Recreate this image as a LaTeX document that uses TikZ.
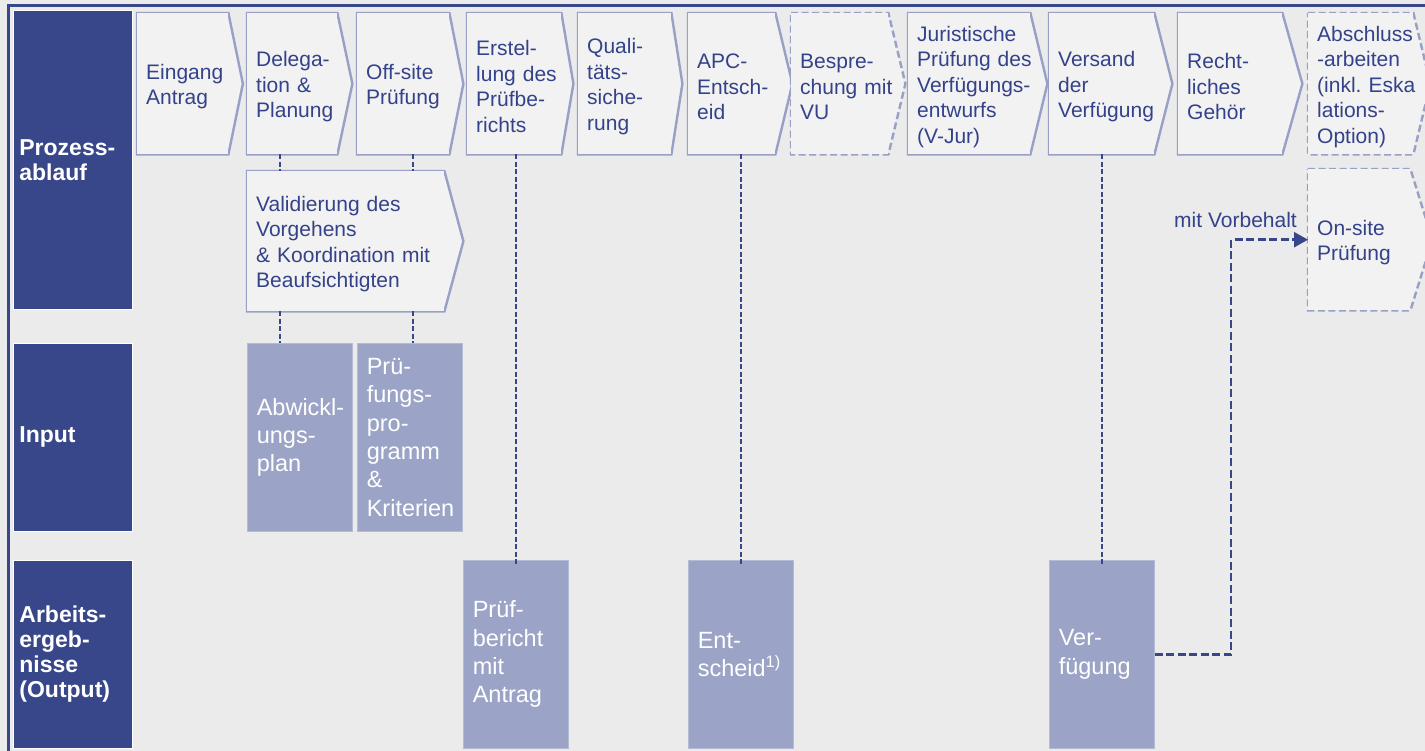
\documentclass[tikz,border=0pt]{standalone}
\usepackage{fontspec}
\setmainfont{Liberation Sans}
\usetikzlibrary{positioning, arrows.meta}
\definecolor{laneblue}{RGB}{56, 70, 138}
\definecolor{textblue}{RGB}{52, 66, 138}
\definecolor{stagefill}{RGB}{242, 242, 242}
\definecolor{stageline}{RGB}{152, 160, 198}
\definecolor{boxfill}{RGB}{155, 164, 198}
\definecolor{canvas}{RGB}{235, 235, 235}
\newcommand{\stagefont}{\fontsize{21}{25.5}\selectfont\hyphenpenalty=10000 \exhyphenpenalty=10000 }
\newcommand{\productfont}{\fontsize{23.5}{28.3}\selectfont\hyphenpenalty=10000 \exhyphenpenalty=10000 }
\newcommand{\lanefont}{\bfseries\fontsize{23}{25}\selectfont\hyphenpenalty=10000 }

\begin{document}
\begin{tikzpicture}[
    x=1pt, y=-1pt,
    lane/.style={
        rectangle,
        fill=laneblue,
        draw=white,
        line width=0.8pt,
        text=white,
        align=left,
        anchor=north west,
        text width=107pt,
        inner xsep=6pt,
        inner ysep=0pt,
        font=\lanefont
    },
    stageborder/.style={
        draw=stageline,
        line width=2.4pt,
        line join=miter
    },
    draft/.style={
        dash pattern=on 7pt off 3.5pt
    },
    stage/.style 2 args={
        rectangle,
        fill=stagefill,
        text=textblue,
        align=left,
        anchor=north west,
        minimum height=141pt,
        inner xsep=9pt,
        inner ysep=0pt,
        font=\stagefont,
        execute at begin node={\rule{0pt}{21pt}},
        append after command={\pgfextra{
            \fill[stagefill] ([xshift=-1pt]\tikzlastnode.north east) -- ([xshift=#1]\tikzlastnode.east)
                -- ([xshift=-1pt]\tikzlastnode.south east) -- cycle;
            \draw[stageborder, #2] (\tikzlastnode.north west) -- (\tikzlastnode.north east)
                -- ([xshift=#1]\tikzlastnode.east) -- (\tikzlastnode.south east)
                -- (\tikzlastnode.south west) -- cycle;
        }}
    },
    product/.style={
        rectangle,
        fill=boxfill,
        draw=boxfill!75!white,
        line width=0.6pt,
        text=white,
        align=left,
        anchor=north west,
        minimum height=188pt,
        text width=86pt,
        inner xsep=9.5pt,
        inner ysep=0pt,
        font=\productfont
    },
    link/.style={
        draw=laneblue,
        line width=1.5pt,
        dash pattern=on 5pt off 2.5pt
    },
    optionarrow/.style={
        draw=laneblue,
        line width=2.4pt,
        dash pattern=on 8pt off 3.5pt,
        -{Triangle[length=14pt, width=15pt]}
    }
]

% Canvas
\useasboundingbox (0,0) rectangle (1425,751);
\clip (0,0) rectangle (1425,751);
\fill[canvas] (0,0) rectangle (1425,751);
\draw[laneblue, line width=3pt] (8.5,760) -- (8.5,5.5) -- (1440,5.5);

% Lanes
\node[lane, minimum height=299pt] (prozess) at (13,10) {Prozess-\\ablauf};
\node[lane, minimum height=188pt] (input) at (13,343) {Input};
\node[lane, minimum height=188pt] (output) at (13,560) {Arbeits-\\ergeb-\\nisse\\(Output)};

% Process stages
\node[stage={14.5pt}{solid}, text width=73pt] (eingang) at (137,13) {Eingang\\Antrag};
\node[stage={15pt}{solid}, text width=72pt] (delegation) at (247,13) {Delega-\\tion~\&\\Planung};
\node[stage={14pt}{solid}, text width=74pt] (offsite) at (357,13) {Off-site\\Prüfung};
\node[stage={12pt}{solid}, text width=76pt] (erstellung) at (467,13) {Erstel-\\lung~des\\Prüfbe-\\richts};
\node[stage={11pt}{solid}, text width=75pt] (quali) at (578,13) {Quali-\\täts-\\siche-\\rung};
\node[stage={17pt}{solid}, text width=69pt] (apc) at (688,13) {APC-\\Entsch-\\eid};
\node[stage={17pt}{draft}, text width=79pt] (besprechung) at (791,13) {Bespre-\\chung~mit\\VU};
\node[stage={17pt}{solid}, text width=104pt] (juristisch) at (908,13) {Juristische\\Prüfung~des\\Verfügungs-\\entwurfs\\(V-Jur)};
\node[stage={18pt}{solid}, text width=87pt] (versand) at (1049,13) {Versand\\der\\Verfügung};
\node[stage={20pt}{solid}, text width=86pt] (rechtlich) at (1178,13) {Recht-\\liches\\Gehör};
\node[stage={17pt}{draft}, text width=87pt] (abschluss) at (1308,13) {Abschluss\\-arbeiten\\(inkl.~Eska\\lations-\\Option)};

\node[stage={19pt}{solid}, text width=179pt, minimum height=140pt] (validierung) at (247,171) {Validierung~des\\Vorgehens\\\&~Koordination~mit\\Beaufsichtigten};
\node[stage={22pt}{draft}, text width=84pt] (onsite) at (1308,169) {On-site\\Prüfung};

% Input
\node[product] (abwicklung) at (247,343) {Abwickl-\\ungs-\\plan};
\node[product] (programm) at (357,343) {Prü-\\fungs-\\pro-\\gramm\\\&\\Kriterien};

% Output
\node[product] (pruefbericht) at (463,560) {Prüf-\\bericht\\mit\\Antrag};
\node[product] (entscheid) at (688,560) {Ent-\\scheid\textsuperscript{1)}};
\node[product] (verfuegung) at (1049,560) {Ver-\\fügung};

% Connections
\draw[link] ([xshift=-12pt]delegation.south) -- ([xshift=-12pt]delegation.south |- validierung.north);
\draw[link] ([xshift=-12pt]delegation.south |- validierung.south) -- ([xshift=-12pt]delegation.south |- abwicklung.north);
\draw[link] ([xshift=10pt]offsite.south) -- ([xshift=10pt]offsite.south |- validierung.north);
\draw[link] ([xshift=10pt]offsite.south |- validierung.south) -- ([xshift=10pt]offsite.south |- programm.north);

\draw[link] (pruefbericht.north |- erstellung.south) -- ([yshift=-6pt]pruefbericht.north);
\draw[link] (entscheid.north |- apc.south) -- ([yshift=-6pt]entscheid.north);
\draw[link] (verfuegung.north |- versand.south) -- ([yshift=-6pt]verfuegung.north);

\draw[optionarrow] (verfuegung.east) -| ([xshift=-77pt]onsite.west) -- (onsite.west);
\node[anchor=base east, text=textblue, font=\stagefont, inner sep=0pt] (vorbehalt) at ([xshift=-11pt, yshift=12pt]onsite.west) {mit Vorbehalt};

\end{tikzpicture}
\end{document}
